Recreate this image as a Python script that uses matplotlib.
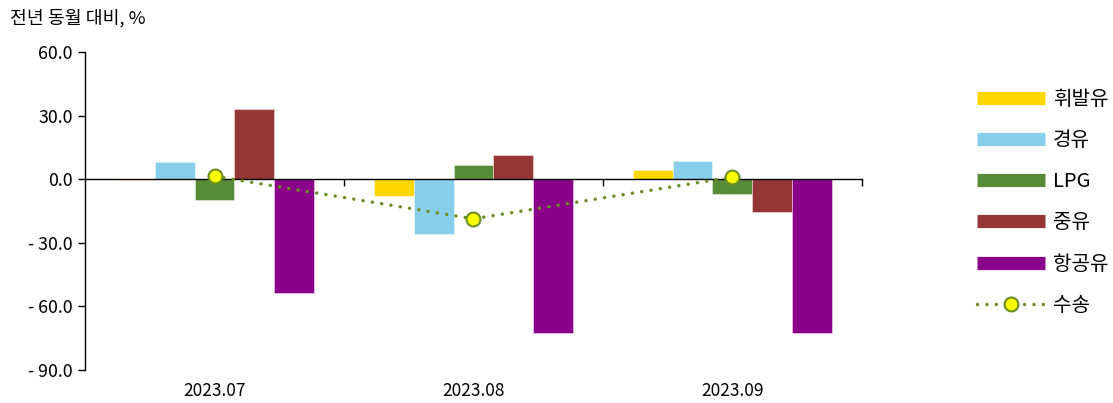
import matplotlib.pyplot as plt
import numpy as np
from matplotlib.lines import Line2D

plt.rcParams['font.family'] = ['Noto Sans CJK KR', 'DejaVu Sans']
plt.rcParams['axes.linewidth'] = 1

months = ['2023.07', '2023.08', '2023.09']
series_names = ['휘발유', '경유', 'LPG', '중유', '항공유']
gasoline = [-0.5, -8.0, 4.2]
diesel = [8.0, -26.0, 8.5]
lpg = [-10.0, 6.6, -7.0]
heavy_oil = [33.0, 11.3, -15.5]
jet_fuel = [-53.8, -72.5, -72.5]
transport = [1.4, -18.7, 1.0]

colors = ['#FFD700', '#87CEEB', '#568B38', '#943634', '#8B008B']
line_col = '#6B8E23'

fig = plt.figure(figsize=(11.13, 4.03), dpi=100)
ax = fig.add_axes([0.0764, 0.082, 0.698, 0.789])

x = np.arange(len(months))
w = 0.154
for i, (vals, col) in enumerate(zip([gasoline, diesel, lpg, heavy_oil, jet_fuel], colors)):
    ax.bar(x + (i - 2) * w, vals, w, color=col, edgecolor=(1, 1, 1, 0.5), linewidth=0.6, zorder=2)

ax.plot(x, transport, color=line_col, lw=2.5, dashes=(0.01, 2.7), dash_capstyle='round',
        marker='o', markersize=10, markerfacecolor='#FFFF00', markeredgecolor=line_col,
        markeredgewidth=1.5, zorder=4)

ax.set_xlim(-0.5, 2.5)
ax.set_ylim(-90, 60)
ax.set_yticks([60, 30, 0, -30, -60, -90])
ax.set_yticklabels(['60.0', '30.0', '0.0', '- 30.0', '- 60.0', '- 90.0'], fontsize=12.8)
ax.tick_params(axis='y', direction='out', length=5, width=1, pad=4)

ax.spines['top'].set_visible(False)
ax.spines['right'].set_visible(False)
ax.spines['bottom'].set_position(('data', 0))
ax.spines['bottom'].set_zorder(3)
ax.set_xticks([0.5, 1.5, 2.5])
ax.set_xticklabels([])
ax.tick_params(axis='x', direction='out', length=5, width=1)

for xi, m in zip(x, months):
    ax.text(xi, -0.066, m, transform=ax.get_xaxis_transform(), ha='center', va='center', fontsize=12.5)

fig.text(0.009, 0.955, '전년 동월 대비, %', fontsize=13.2, ha='left', va='center')

handles = [Line2D([], [], color=c, lw=9.5, solid_capstyle='butt') for c in colors]
handles.append(Line2D([], [], color=line_col, lw=2.5, dashes=(0.01, 2.7), dash_capstyle='round',
                      marker='o', markersize=10, markerfacecolor='#FFFF00',
                      markeredgecolor=line_col, markeredgewidth=1.5))
labels = series_names + ['수송']
fig.legend(handles, labels, loc='upper left', bbox_to_anchor=(977 / 1113, 1 - 89 / 403),
           frameon=False, fontsize=14.5, handlelength=3.4, handletextpad=0.35,
           labelspacing=1.0, borderpad=0, borderaxespad=0, numpoints=1)

plt.savefig('out.png', dpi=100)
